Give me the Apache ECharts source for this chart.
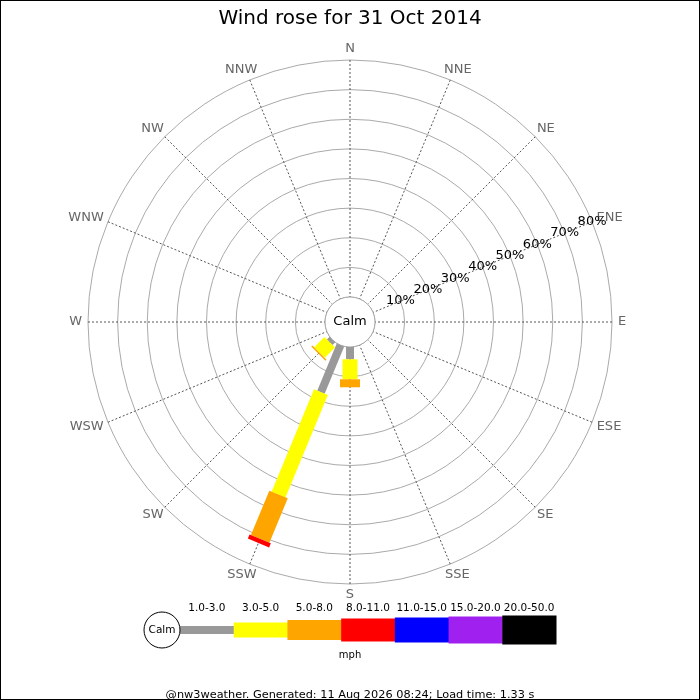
<!DOCTYPE html>
<html>
<head>
<meta charset="utf-8">
<script src="https://cdn.jsdelivr.net/npm/echarts@6/dist/echarts.min.js"></script>
<style>
  html, body { margin: 0; padding: 0; background: #fff; }
  #wrap { position: relative; width: 700px; height: 700px; }
  #chart { width: 700px; height: 700px; }
  #frame { position: absolute; left: 0; top: 0; width: 700px; height: 700px; box-sizing: border-box; border: 1px solid #000; pointer-events: none; }
</style>
</head>
<body>
<div id="wrap"><div id="chart"></div><div id="frame"></div></div>
<script>
// ---- data ----
const directions = ['N','NNE','NE','ENE','E','ESE','SE','SSE','S','SSW','SW','WSW','W','WNW','NW','NNW'];
const speedBands = ['1.0-3.0','3.0-5.0','5.0-8.0','8.0-11.0','11.0-15.0','15.0-20.0','20.0-50.0'];
//                 N  NNE NE ENE E ESE SE SSE  S     SSW   SW   WSW W WNW NW NNW
const pct_1_3   = [0, 0,  0, 0,  0, 0,  0, 0,  4.15, 17.2, 1.25, 0, 0, 0, 0, 0];
const pct_3_5   = [0, 0,  0, 0,  0, 0,  0, 0,  6.75, 37.4, 4.9,  0, 0, 0, 0, 0];
const pct_5_8   = [0, 0,  0, 0,  0, 0,  0, 0,  2.7,  16.2, 0.5,  0, 0, 0, 0, 0];
const pct_8_11  = [0, 0,  0, 0,  0, 0,  0, 0,  0,    1.5,  0,    0, 0, 0, 0, 0];
const pct_11_15 = [0, 0,  0, 0,  0, 0,  0, 0,  0,    0,    0,    0, 0, 0, 0, 0];
const pct_15_20 = [0, 0,  0, 0,  0, 0,  0, 0,  0,    0,    0,    0, 0, 0, 0, 0];
const pct_20_50 = [0, 0,  0, 0,  0, 0,  0, 0,  0,    0,    0,    0, 0, 0, 0, 0];
const ringTicks = [10, 20, 30, 40, 50, 60, 70, 80];
const ringTickLabels = ['10%', '20%', '30%', '40%', '50%', '60%', '70%', '80%'];
const ringMax = 80;
const ringStep = 10;
const titleText = 'Wind rose for 31 Oct 2014';
const footerText = '@nw3weather. Generated: 11 Aug 2026 08:24; Load time: 1.33 s';
const unitText = 'mph';
const calmText = 'Calm';

// ---- styles ----
const bandColors = ['#999999','#ffff00','#ffa500','#ff0000','#0000ff','#a020f0','#000000'];
const bandWidths = [8, 15, 20, 23, 25, 27, 29];
const bands = [pct_1_3, pct_3_5, pct_5_8, pct_8_11, pct_11_15, pct_15_20, pct_20_50];
const font = 'DejaVu Sans';
const dirFontSize = 13;

// angle axis starts at ENE (the ring labels lie along ENE), clockwise
const START_COMPASS = 67.5;
function dirToAngle(i) { return ((i * 22.5 - START_COMPASS) % 360 + 360) % 360; }

const measureCtx = document.createElement('canvas').getContext('2d');
measureCtx.font = dirFontSize + 'px "' + font + '"';

// build stacked segments
const segments = [];
directions.forEach((d, i) => {
  let acc = 0;
  bands.forEach((arr, b) => {
    const v = arr[i];
    if (v > 0) {
      segments.push([acc, acc + v, dirToAngle(i), b]);
      acc += v;
    }
  });
});

const chart = echarts.init(document.getElementById('chart'), null, { renderer: 'canvas' });

const option = {
  backgroundColor: '#fff',
  animation: false,
  textStyle: { fontFamily: font },
  title: [
    { text: titleText, left: 'center', top: 4, textStyle: { fontFamily: font, fontSize: 20, fontWeight: 'normal', color: '#000' } },
    { text: unitText, left: 'center', top: 645, textStyle: { fontFamily: font, fontSize: 10, fontWeight: 'normal', color: '#000' } },
    { text: footerText, left: 'center', top: 685, textStyle: { fontFamily: font, fontSize: 11.3, fontWeight: 'normal', color: '#000' } }
  ],
  polar: { center: [350, 322], radius: [25, 262] },
  angleAxis: {
    type: 'value', min: 0, max: 360, interval: 22.5,
    startAngle: 22.5, clockwise: true,
    axisLine: { show: false },
    axisTick: { show: false },
    axisLabel: { show: false },
    splitLine: { show: true, lineStyle: { color: '#555555', width: 1, type: [2, 2] } }
  },
  radiusAxis: {
    type: 'value', min: 0, max: ringMax, interval: ringStep,
    axisLine: { show: false },
    axisTick: { show: false },
    axisLabel: { show: false },
    splitLine: { show: true, lineStyle: { color: '#aaaaaa', width: 1 } }
  },
  grid: { left: 180, right: 144, top: 615, height: 30 },
  xAxis: {
    type: 'category', data: speedBands, position: 'top', gridIndex: 0,
    axisLine: { show: false }, axisTick: { show: false },
    axisLabel: { show: true, margin: 1, color: '#000', fontSize: 10.5, fontFamily: font, interval: 0 }
  },
  yAxis: { type: 'value', min: -15, max: 15, show: false, gridIndex: 0 },
  series: [
    {
      // calm circle in the middle
      type: 'custom', coordinateSystem: 'polar', z: 5,
      data: [[0, 0]],
      renderItem: function (params, api) {
        const a = api.coord([0, 0]);
        const b = api.coord([0, 180]);
        const cx = (a[0] + b[0]) / 2, cy = (a[1] + b[1]) / 2;
        const r = Math.hypot(a[0] - b[0], a[1] - b[1]) / 2;
        return {
          type: 'group',
          children: [
            { type: 'circle', shape: { cx: cx, cy: cy, r: r }, style: { fill: '#fff', stroke: '#aaaaaa', lineWidth: 1 } },
            { type: 'text', style: { x: cx, y: cy, text: calmText, align: 'center', verticalAlign: 'middle', fontSize: 13, fontFamily: font, fill: '#000' } }
          ]
        };
      }
    },
    {
      // compass direction labels just outside the outer ring
      type: 'custom', coordinateSystem: 'polar', z: 5, silent: true,
      data: directions.map((d, i) => [ringMax, dirToAngle(i), i]),
      encode: { radius: 0, angle: 1 },
      renderItem: function (params, api) {
        const i = api.value(2);
        const p = api.coord([api.value(0), api.value(1)]);
        const c = i * 22.5 * Math.PI / 180;
        const ux = Math.sin(c), uy = -Math.cos(c);
        const text = directions[i];
        const hw = measureCtx.measureText(text).width / 2, hh = 5, pad = 6;
        return {
          type: 'text',
          style: { x: p[0] + (pad + hw) * ux, y: p[1] + (pad + hh) * uy, text: text, align: 'center', verticalAlign: 'middle',
                   fontSize: dirFontSize, fontFamily: font, fill: '#666666' }
        };
      }
    },
    {
      // ring (percentage) labels along the ENE spoke
      type: 'custom', coordinateSystem: 'polar', z: 7, silent: true,
      data: ringTicks.map((v, k) => [v, 0, k]),
      encode: { radius: 0, angle: 1 },
      renderItem: function (params, api) {
        const p = api.coord([api.value(0), api.value(1)]);
        return {
          type: 'text',
          style: { x: p[0], y: p[1], text: ringTickLabels[api.value(2)], align: 'center', verticalAlign: 'middle',
                   fontSize: 13, fontFamily: font, fill: '#000' }
        };
      }
    },
    {
      // stacked speed segments per direction
      type: 'custom', coordinateSystem: 'polar', z: 6,
      data: segments,
      encode: { radius: [0, 1], angle: 2 },
      renderItem: function (params, api) {
        const r0 = api.value(0), r1 = api.value(1), ang = api.value(2), b = api.value(3);
        const p0 = api.coord([r0, ang]);
        const p1 = api.coord([r1, ang]);
        return {
          type: 'line',
          shape: { x1: p0[0], y1: p0[1], x2: p1[0], y2: p1[1] },
          style: { stroke: bandColors[b], lineWidth: bandWidths[b], lineCap: 'butt' }
        };
      }
    },
    {
      // speed legend
      type: 'custom', coordinateSystem: 'cartesian2d', xAxisIndex: 0, yAxisIndex: 0, z: 5,
      data: speedBands.map((s, i) => [i, 0]),
      renderItem: function (params, api) {
        const i = api.value(0);
        const p = api.coord([i, 0]);
        const w = api.size([1, 0])[0];
        const h = bandWidths[i];
        const children = [
          { type: 'rect', shape: { x: p[0] - w / 2, y: p[1] - h / 2, width: w + 0.5, height: h }, style: { fill: bandColors[i] } }
        ];
        if (i === 0) {
          const cr = 18;
          const cx = p[0] - w / 2 - cr;
          children.push({ type: 'circle', shape: { cx: cx, cy: p[1], r: cr }, style: { fill: '#fff', stroke: '#000', lineWidth: 1 } });
          children.push({ type: 'text', style: { x: cx, y: p[1], text: calmText, align: 'center', verticalAlign: 'middle', fontSize: 10.5, fontFamily: font, fill: '#000' } });
        }
        return { type: 'group', children: children };
      }
    }
  ]
};
chart.setOption(option);
</script>
</body>
</html>
